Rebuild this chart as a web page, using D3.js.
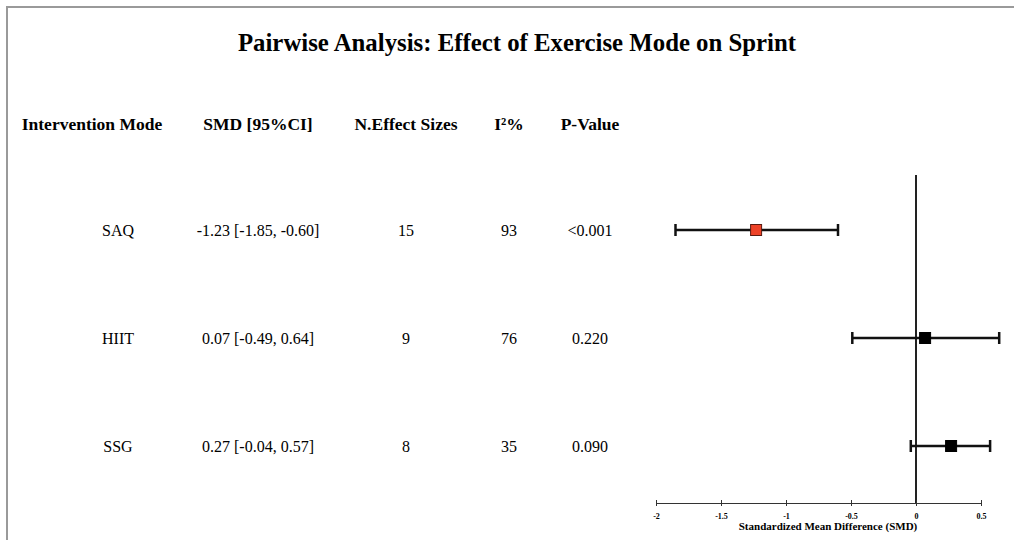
<!DOCTYPE html>
<html>
<head>
<meta charset="utf-8">
<script src="https://cdn.jsdelivr.net/npm/d3@7"></script>
<style>
  html, body { margin: 0; padding: 0; background: #fff; }
  svg { display: block; }
  text { font-family: "Liberation Serif", "Times New Roman", serif; fill: #000; }
</style>
</head>
<body>
<svg id="chart" width="1014" height="540"></svg>
<script>
// Pairwise meta-analysis results by intervention mode
const modes = ["SAQ", "HIIT", "SSG"];
const smd = [-1.23, 0.07, 0.27];
const ciLow = [-1.85, -0.49, -0.04];
const ciHigh = [-0.60, 0.64, 0.57];
const nEffects = [15, 9, 8];
const i2 = [93, 76, 35];
const pValues = ["<0.001", "0.220", "0.090"];
const highlight = [true, false, false];
const xTicks = [-2, -1.5, -1, -0.5, 0, 0.5];

const headers = ["Intervention Mode", "SMD [95%CI]", "N.Effect Sizes", "I²%", "P-Value"];
const colX = [92, 258, 406, 509, 590];

const svg = d3.select("#chart");

// frame
svg.append("path")
  .attr("d", "M7,540 V7 H1014")
  .attr("fill", "none")
  .attr("stroke", "#9a9a9a")
  .attr("stroke-width", 2);

// title
svg.append("text")
  .attr("x", 517).attr("y", 51)
  .attr("text-anchor", "middle")
  .attr("font-size", 24.8).attr("font-weight", "bold")
  .text("Pairwise Analysis: Effect of Exercise Mode on Sprint");

// table headers
svg.selectAll("text.hdr").data(headers).join("text")
  .attr("class", "hdr")
  .attr("x", (d, i) => colX[i]).attr("y", 130)
  .attr("text-anchor", "middle")
  .attr("font-size", 17.5).attr("font-weight", "bold")
  .text(d => d);

const y = d3.scalePoint().domain(modes).range([230, 446]);
const x = d3.scaleLinear().domain([-2, 0.5]).range([656, 981]);

// plain hyphen-minus for negative numbers
const fmt = v => v.toFixed(2);
const rows = modes.map((m, i) => [
  m,
  `${fmt(smd[i])} [${fmt(ciLow[i])}, ${fmt(ciHigh[i])}]`,
  String(nEffects[i]),
  String(i2[i]),
  pValues[i]
]);

const rowG = svg.selectAll("g.row").data(rows).join("g")
  .attr("class", "row")
  .attr("transform", (d, i) => `translate(0,${y(modes[i])})`);
rowG.selectAll("text").data(d => d).join("text")
  .attr("x", (d, j) => j === 0 ? 118 : colX[j])
  .attr("y", 5.5)
  .attr("text-anchor", "middle")
  .attr("font-size", 16)
  .text(d => d);

// reference line at zero
svg.append("line")
  .attr("x1", x(0)).attr("x2", x(0))
  .attr("y1", 175).attr("y2", 503)
  .attr("stroke", "#222").attr("stroke-width", 2);

// confidence intervals
const capH = 6;
const ci = svg.selectAll("g.ci").data(modes).join("g").attr("class", "ci");
ci.append("line")
  .attr("x1", (d, i) => x(ciLow[i])).attr("x2", (d, i) => x(ciHigh[i]))
  .attr("y1", d => y(d)).attr("y2", d => y(d))
  .attr("stroke", "#111").attr("stroke-width", 2.5);
ci.append("line")
  .attr("x1", (d, i) => x(ciLow[i])).attr("x2", (d, i) => x(ciLow[i]))
  .attr("y1", d => y(d) - capH).attr("y2", d => y(d) + capH)
  .attr("stroke", "#111").attr("stroke-width", 2.5);
ci.append("line")
  .attr("x1", (d, i) => x(ciHigh[i])).attr("x2", (d, i) => x(ciHigh[i]))
  .attr("y1", d => y(d) - capH).attr("y2", d => y(d) + capH)
  .attr("stroke", "#111").attr("stroke-width", 2.5);

// point estimates
const s = 11;
ci.append("rect")
  .attr("x", (d, i) => x(smd[i]) - s / 2)
  .attr("y", d => y(d) - s / 2)
  .attr("width", s).attr("height", s)
  .attr("fill", (d, i) => highlight[i] ? "#ee4227" : "#000")
  .attr("stroke", (d, i) => highlight[i] ? "#5a1a10" : "#000")
  .attr("stroke-width", 1);

// x axis
const axis = d3.axisBottom(x)
  .tickValues(xTicks)
  .tickSize(3)
  .tickSizeOuter(0)
  .tickFormat(d => String(d));
const ax = svg.append("g")
  .attr("transform", "translate(0,503)")
  .call(axis);
ax.select(".domain").attr("stroke", "#333").attr("stroke-width", 1);
ax.selectAll(".tick line").attr("stroke", "#333").attr("y1", -3).attr("y2", 3);
ax.selectAll(".tick text")
  .attr("y", 10)
  .attr("font-family", "Liberation Serif, serif")
  .attr("font-size", 8).attr("font-weight", "bold").attr("fill", "#000");

svg.append("text")
  .attr("x", 828).attr("y", 530)
  .attr("text-anchor", "middle")
  .attr("font-size", 11).attr("font-weight", "bold")
  .text("Standardized Mean Difference (SMD)");
</script>
</body>
</html>
